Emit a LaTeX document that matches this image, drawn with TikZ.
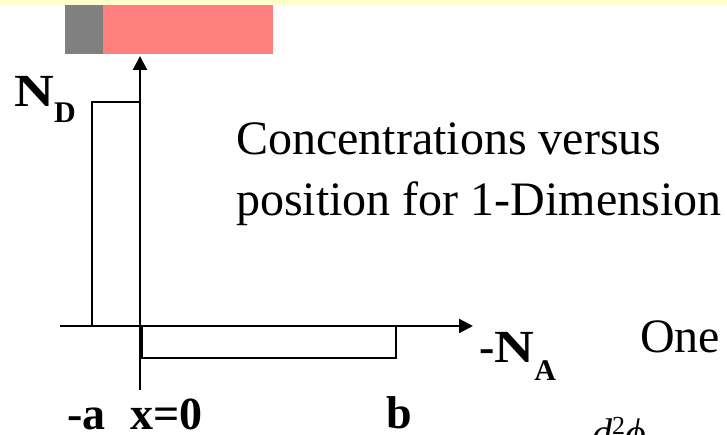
\documentclass[tikz,border=0pt]{standalone}
\usepackage{fontspec}
\setmainfont{Liberation Serif}
\usetikzlibrary{arrows.meta}
\definecolor{bandyellow}{HTML}{FFFFCC}
\definecolor{pinkbar}{HTML}{FF7F7F}
\definecolor{graybar}{HTML}{808080}
\begin{document}
\begin{tikzpicture}[x=1pt,y=-1pt,
  axis/.style={line width=2.2pt,-{Triangle[length=14pt,width=14pt]}},
  boxline/.style={line width=2.2pt},
  lbl/.style={inner sep=0pt,anchor=base west,font=\fontsize{46}{50}\selectfont\bfseries},
  txt/.style={inner sep=0pt,anchor=base west,font=\fontsize{48}{56}\selectfont}]
\clip (0,0) rectangle (727,435);
\useasboundingbox (0,0) rectangle (727,435);
% top bands
\fill[bandyellow] (0,0) rectangle (727,5);
\fill[graybar] (65,5) rectangle (103,54);
\fill[pinkbar] (103,5) rectangle (273,54);
% coordinates
\coordinate (ybot) at (140,390);
\coordinate (ytop) at (140,56);
\coordinate (xl) at (60,326);
\coordinate (xr) at (473,326);
% boxes
\draw[boxline] (92,326) -- (92,102) -- (140,102);
\draw[boxline] (142,326) -- (142,358) -- (396,358) -- (396,326);
% axes
\draw[axis] (ybot) -- (ytop);
\draw[axis] (xl) -- (xr);
% labels
\node[lbl] (nd) at (14,107) {\scalebox{1.2}[1]{N}\raisebox{-16pt}{\fontsize{30}{30}\selectfont D}};
\node[lbl] (na) at (479,362) {-\scalebox{1.2}[1]{N}\raisebox{-18pt}{\fontsize{30}{30}\selectfont A}};
\node[lbl] (ma) at (67,429) {-a};
\node[lbl] (x0) at (130,429) {x=0};
\node[lbl] (b) at (386,428) {b};
\node[txt] (t1) at (236,155) {Concentrations versus};
\node[txt] (t2) at (236,216) {position for 1-Dimension};
\node[txt] (one) at (640,352) {One};
\node[inner sep=0pt,anchor=base west,font=\fontsize{40}{44}\selectfont\itshape] (eq) at (592,446) {d\raisebox{12pt}{\fontsize{26}{28}\selectfont\upshape 2}ϕ};
\end{tikzpicture}
\end{document}
